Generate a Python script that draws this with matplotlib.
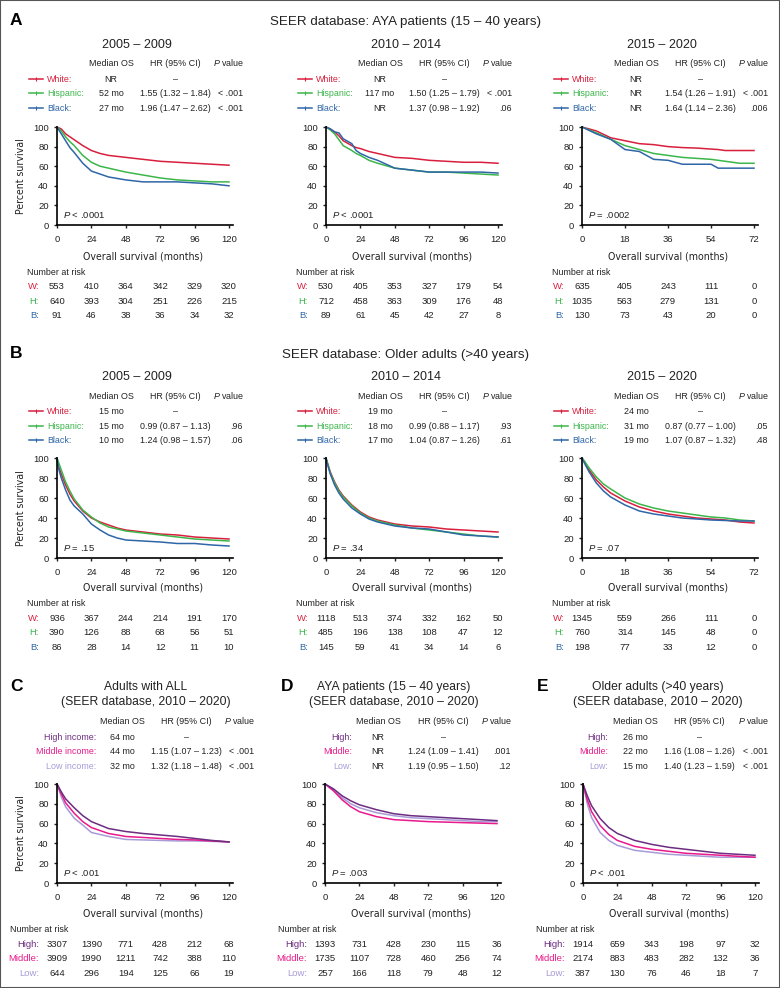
import matplotlib
matplotlib.use("Agg")
import matplotlib.pyplot as plt
from matplotlib.lines import Line2D
from matplotlib.patches import Rectangle
from matplotlib.transforms import blended_transform_factory

plt.rcParams['font.family'] = ['Liberation Sans', 'DejaVu Sans']
plt.rcParams['mathtext.fontset'] = 'custom'
plt.rcParams['mathtext.it'] = 'Liberation Sans:italic'
plt.rcParams['mathtext.rm'] = 'Liberation Sans'
NARROW = dict(family=['DejaVu Sans'], stretch='condensed')

# ---------------- data ----------------
race_names = ["White:", "Hispanic:", "Black:"]
race_short = ["W:", "H:", "B:"]
race_colors = ["#d91f3d", "#3cb64a", "#2f66a8"]
inc_colors = ["#6c2c80", "#e8198b", "#a89bd8"]
inc_short = ["High:", "Middle:", "Low:"]

periods = ["2005 – 2009", "2010 – 2014", "2015 – 2020"]
xticks_10y = [0, 24, 48, 72, 96, 120]
xticks_6y = [0, 18, 36, 54, 72]

# A: AYA patients by race
a_median = [["NR", "52 mo", "27 mo"], ["NR", "117 mo", "NR"], ["NR", "NR", "NR"]]
a_hr = [["–", "1.55 (1.32 – 1.84)", "1.96 (1.47 – 2.62)"],
        ["–", "1.50 (1.25 – 1.79)", "1.37 (0.98 – 1.92)"],
        ["–", "1.54 (1.26 – 1.91)", "1.64 (1.14 – 2.36)"]]
a_pval = [["", "< .001", "< .001"], ["", "< .001", ".06"], ["", "< .001", ".006"]]
a_logrank = ["< .0001", "< .0001", "= .0002"]
a_risk = [[[553, 410, 364, 342, 329, 320], [640, 393, 304, 251, 226, 215], [91, 46, 38, 36, 34, 32]],
          [[530, 405, 353, 327, 179, 54], [712, 458, 363, 309, 176, 48], [89, 61, 45, 42, 27, 8]],
          [[635, 405, 243, 111, 0], [1035, 563, 279, 131, 0], [130, 73, 43, 20, 0]]]

a1_t = [0, 3, 6, 9, 12, 18, 24, 30, 36, 48, 60, 72, 84, 96, 108, 120]
a1_w = [100, 98, 93, 90, 87, 81, 76, 73, 71, 69, 67, 65, 64, 63, 62, 61]
a1_h = [100, 96, 90, 85, 81, 71, 64, 60, 58, 54, 51, 48, 46, 45, 44, 44]
a1_b = [100, 93, 86, 79, 74, 63, 55, 52, 49, 46, 44, 44, 44, 43, 42, 40]

a2_t = [0, 3, 6, 9, 12, 18, 21, 24, 30, 36, 48, 60, 72, 84, 96, 108, 120]
a2_w = [100, 98, 95, 91, 86, 81, 79, 78, 75, 73, 69, 68, 66, 65, 64, 64, 63]
a2_h = [100, 97, 93, 87, 81, 76, 73, 71, 66, 63, 58, 56, 54, 54, 53, 52, 51]
a2_b = [100, 98, 95, 94, 88, 83, 76, 73, 69, 66, 58, 56, 54, 54, 54, 54, 53]

a3_t = [0, 6, 12, 18, 24, 30, 36, 42, 48, 54, 57, 60, 66, 72]
a3_w = [100, 96, 89, 86, 83, 82, 80, 79, 78.5, 77.5, 77, 76, 76, 76]
a3_h = [100, 94, 87.5, 81, 77, 73, 71, 69, 68, 67, 66, 65, 63, 63]
a3_b = [100, 93, 87.5, 77, 75, 67, 66, 62, 62, 62, 58, 58, 58, 58]

# B: older adults by race
b_median = [["15 mo", "15 mo", "10 mo"], ["19 mo", "18 mo", "17 mo"], ["24 mo", "31 mo", "19 mo"]]
b_hr = [["–", "0.99 (0.87 – 1.13)", "1.24 (0.98 – 1.57)"],
        ["–", "0.99 (0.88 – 1.17)", "1.04 (0.87 – 1.26)"],
        ["–", "0.87 (0.77 – 1.00)", "1.07 (0.87 – 1.32)"]]
b_pval = [["", ".96", ".06"], ["", ".93", ".61"], ["", ".05", ".48"]]
b_logrank = ["= .15", "= .34", "= .07"]
b_risk = [[[936, 367, 244, 214, 191, 170], [390, 126, 88, 68, 56, 51], [86, 28, 14, 12, 11, 10]],
          [[1118, 513, 374, 332, 162, 50], [485, 196, 138, 108, 47, 12], [145, 59, 41, 34, 14, 6]],
          [[1345, 559, 266, 111, 0], [760, 314, 145, 48, 0], [198, 77, 33, 12, 0]]]

b1_t = [0, 1, 3, 6, 9, 12, 18, 24, 30, 36, 42, 48, 60, 72, 84, 96, 108, 120]
b1_w = [100, 92, 84, 73, 64, 57, 47, 40, 36, 33, 30, 28, 26, 24, 23, 21, 20, 19]
b1_h = [100, 96, 88, 76, 67, 59, 48, 41, 35, 31, 29, 27, 25, 23, 21, 19, 18, 17]
b1_b = [100, 90, 80, 68, 58, 52, 44, 34, 28, 23, 20, 18, 17, 16, 14.5, 14.5, 13, 12]

b2_t = [0, 1, 3, 6, 9, 12, 18, 24, 30, 36, 48, 60, 72, 84, 96, 108, 120]
b2_w = [100, 95, 86, 76, 68, 62, 53, 46, 41, 38, 34, 32, 31, 29, 28, 27, 26]
b2_h = [100, 95, 85, 75, 67, 61, 52, 45, 40, 37, 33, 30, 28, 26, 24, 22, 21]
b2_b = [100, 94, 84, 73, 65, 59, 50, 44, 39, 36, 32, 30, 29, 26, 23, 22, 21]

b3_t = [0, 1, 3, 6, 9, 12, 18, 24, 30, 36, 42, 48, 54, 60, 66, 72]
b3_w = [100, 96, 88, 78, 71, 65, 57, 51, 47, 44, 42, 40, 39, 38, 36, 35]
b3_h = [100, 97, 90, 81, 74, 69, 60, 54, 50, 47, 45, 43, 41, 40, 38, 37]
b3_b = [100, 95, 86, 75, 67, 61, 53, 47, 44, 42, 40, 39, 38, 37.5, 37, 37]

# C/D/E: by income, 2010 - 2020
cde_title1 = ["Adults with ALL", "AYA patients (15 – 40 years)", "Older adults (>40 years)"]
cde_title2 = "(SEER database, 2010 – 2020)"
c_names = ["High income:", "Middle income:", "Low income:"]
cde_median = [["64 mo", "44 mo", "32 mo"], ["NR", "NR", "NR"], ["26 mo", "22 mo", "15 mo"]]
cde_hr = [["–", "1.15 (1.07 – 1.23)", "1.32 (1.18 – 1.48)"],
          ["–", "1.24 (1.09 – 1.41)", "1.19 (0.95 – 1.50)"],
          ["–", "1.16 (1.08 – 1.26)", "1.40 (1.23 – 1.59)"]]
cde_pval = [["", "< .001", "< .001"], ["", ".001", ".12"], ["", "< .001", "< .001"]]
cde_logrank = ["< .001", "= .003", "< .001"]
cde_risk = [[[3307, 1390, 771, 428, 212, 68], [3909, 1990, 1211, 742, 388, 110], [644, 296, 194, 125, 66, 19]],
            [[1393, 731, 428, 230, 115, 36], [1735, 1107, 728, 460, 256, 74], [257, 166, 118, 79, 48, 12]],
            [[1914, 659, 343, 198, 97, 32], [2174, 883, 483, 282, 132, 36], [387, 130, 76, 46, 18, 7]]]

c_t = [0, 3, 6, 12, 18, 24, 36, 48, 60, 72, 84, 96, 108, 120]
c_high = [100, 92, 85, 76, 68, 62, 55, 52, 50, 48.5, 47, 45, 43, 41.5]
c_mid = [100, 90, 81, 70.5, 62, 56, 50, 47, 46, 45, 44, 43.5, 42.5, 41.5]
c_low = [100, 87, 77, 65.5, 58.5, 51, 47, 44, 43.5, 43, 42.5, 42.5, 42, 41.5]

d_t = [0, 6, 12, 18, 24, 36, 48, 60, 72, 84, 96, 108, 120]
d_high = [100, 95, 88, 83, 79, 74, 70, 68, 67, 66, 65, 64, 63]
d_mid = [100, 93, 84, 77, 72, 67, 64, 63, 62, 61.5, 61, 60.5, 60]
d_low = [100, 94, 86, 80, 76, 71, 68, 66, 65, 64, 63, 62, 62]

e_t = [0, 3, 6, 12, 18, 24, 36, 48, 60, 72, 84, 96, 108, 120]
e_high = [100, 88, 78, 65, 56, 50, 43, 39, 36, 34, 32, 30, 29, 28]
e_mid = [100, 84, 72, 58, 49, 43, 37, 34, 32, 30, 29, 28, 27, 26]
e_low = [100, 80, 66, 51, 43, 38, 33, 31, 29, 28, 27, 26, 26, 26]

# ---------------- layout helpers (pixel coords) ----------------
W, H = 780, 988
fig = plt.figure(figsize=(W / 100, H / 100), dpi=100)
fig.patches.append(Rectangle((0, 0), 1, 1, transform=fig.transFigure,
                             fill=False, ec="#555555", lw=1.5))

def fx(p):
    return p / W

def fy(p):
    return 1 - p / H

def ftext(x, y, s, fontsize=6.4, **kw):
    # y is the visual centre of the digits/capitals -> put on baseline
    kw.setdefault("color", "#222222")
    yb = y + 0.36 * fontsize * 100 / 72
    fig.text(fx(x), fy(yb), s, fontsize=fontsize, va="baseline", **kw)

AXW = 172  # pixels from 0 to xmax

def km_axes(x0, y100, y0, xmax, xticks, t, curves, colors, ptext):
    ax = fig.add_axes([fx(x0), fy(y0), AXW * 1.025 / W, (y0 - y100) / H])
    for s, c in zip(curves, colors):
        ax.plot(t, s, color=c, lw=1.1, clip_on=False)
    ax.set_xlim(0, xmax * 1.025)
    ax.set_ylim(0, 100)
    ax.set_xticks(xticks)
    ax.set_yticks([0, 20, 40, 60, 80, 100])
    ax.spines[["top", "right"]].set_visible(False)
    ax.spines[["left", "bottom"]].set_linewidth(1.2)
    ax.tick_params(length=2.5, width=1, labelsize=6.8, colors="#222222")
    ax.tick_params(axis="x", pad=4.5)
    ax.tick_params(axis="y", pad=3.5)
    ftext(x0 + 6, y0 - 10, "$P$ " + ptext, fontsize=6.8)
    ax.patch.set_alpha(0)
    return ax

def risk_table(ax, x0, ynar, rows_y, labels, colors, risk, xticks, hdr_dx):
    ftext(x0 - hdr_dx, ynar, "Number at risk")
    tr = blended_transform_factory(ax.transData, fig.transFigure)
    for lab, c, vals, yy in zip(labels, colors, risk, rows_y):
        ftext(x0 - 18, yy, lab, color=c, ha="right", fontsize=6.8)
        yb = yy + 0.36 * 6.8 * 100 / 72
        for xv, v in zip(xticks, vals):
            ax.text(xv, fy(yb), str(v), transform=tr, ha="center", va="baseline",
                    fontsize=6.8, color="#222222", clip_on=False)

def axis_labels(x0, y100, y0, yxl, first):
    ftext(x0 + AXW / 2, yxl, "Overall survival (months)", ha="center",
          fontsize=7.6, **NARROW)
    if first:
        fig.text(fx(21), fy((y100 + y0) / 2), "Percent survival", ha="center",
                 va="center", rotation=90, fontsize=7.6, color="#222222", **NARROW)

def stats_table(x0, yh, rows_y, names, colors, med, hr, pv, d, legend_lines):
    dn, dm, dh, dp = d
    ftext(x0 + dm, yh, "Median OS", ha="center")
    ftext(x0 + dh, yh, "HR (95% CI)", ha="center")
    ftext(x0 + dp, yh, "$P$ value", ha="right")
    for i, yy in enumerate(rows_y):
        if legend_lines:
            fig.add_artist(Line2D([fx(x0 - 28), fx(x0 - 14)], [fy(yy), fy(yy)],
                                  color=colors[i], lw=1.1))
            fig.add_artist(Line2D([fx(x0 - 21)], [fy(yy)], color=colors[i],
                                  marker="|", ms=3, mew=0.8))
            ftext(x0 + dn, yy, names[i], color=colors[i], ha="left")
        else:
            ftext(x0 + dn, yy, names[i], color=colors[i], ha="right")
        ftext(x0 + dm, yy, med[i], ha="center")
        ftext(x0 + dh, yy, hr[i], ha="center")
        ftext(x0 + dp - 1, yy, pv[i], ha="right")

# ---------------- rows A and B ----------------
x0s = [57, 326, 582]
race_rows = [
    dict(letter="A", ly=19, title="SEER database: AYA patients (15 – 40 years)", ty=20,
         sub_y=43, yh=63, rows=[79, 93, 108], y100=127, y0=225, yxl=256, ynar=272,
         nar=[286, 301, 315], med=a_median, hr=a_hr, pv=a_pval, lr=a_logrank, risk=a_risk,
         curves=[(a1_t, [a1_w, a1_h, a1_b]), (a2_t, [a2_w, a2_h, a2_b]), (a3_t, [a3_w, a3_h, a3_b])]),
    dict(letter="B", ly=352, title="SEER database: Older adults (>40 years)", ty=353,
         sub_y=375, yh=396, rows=[411, 426, 440], y100=458, y0=558, yxl=587, ynar=603,
         nar=[618, 632, 647], med=b_median, hr=b_hr, pv=b_pval, lr=b_logrank, risk=b_risk,
         curves=[(b1_t, [b1_w, b1_h, b1_b]), (b2_t, [b2_w, b2_h, b2_b]), (b3_t, [b3_w, b3_h, b3_b])]),
]

for r in race_rows:
    ftext(10, r["ly"], r["letter"], fontsize=12.5, weight="bold", color="black", ha="left")
    ftext(406, r["ty"], r["title"], fontsize=9.6, ha="center")
    for k, x0 in enumerate(x0s):
        xmax = 72 if k == 2 else 120
        xt = xticks_6y if k == 2 else xticks_10y
        t, cs = r["curves"][k]
        ftext(x0 + 80, r["sub_y"], periods[k], fontsize=9, ha="center")
        stats_table(x0, r["yh"], r["rows"], race_names, race_colors,
                    r["med"][k], r["hr"][k], r["pv"][k], (-10, 54, 118, 187), True)
        ax = km_axes(x0, r["y100"], r["y0"], xmax, xt, t, cs, race_colors, r["lr"][k])
        axis_labels(x0, r["y100"], r["y0"], r["yxl"], k == 0)
        risk_table(ax, x0, r["ynar"], r["nar"], race_short, race_colors,
                   r["risk"][k], xt, 30)

# ---------------- row C/D/E ----------------
cde_x0 = [57, 325, 583]
cde_letters = ["C", "D", "E"]
cde_letter_x = [10, 281, 537]
cde_title_x = [146, 394, 658]
cde_names = [c_names, inc_short, inc_short]
cde_d = [(39, 65, 129, 198), (27, 53, 118, 187), (25, 52, 116, 186)]
cde_curves = [(c_t, [c_low, c_mid, c_high]), (d_t, [d_low, d_mid, d_high]), (e_t, [e_low, e_mid, e_high])]
cde_order_colors = [inc_colors[2], inc_colors[1], inc_colors[0]]

for k, x0 in enumerate(cde_x0):
    ftext(cde_letter_x[k], 685, cde_letters[k], fontsize=12.5, weight="bold",
          color="black", ha="left")
    ftext(cde_title_x[k], 686, cde_title1[k], fontsize=8.7, ha="center")
    ftext(cde_title_x[k], 701, cde_title2, fontsize=8.7, ha="center")
    stats_table(x0, 721, [737, 751, 766], cde_names[k], inc_colors,
                cde_median[k], cde_hr[k], cde_pval[k], cde_d[k], False)
    t, cs = cde_curves[k]
    ax = km_axes(x0, 784, 883, 120, xticks_10y, t, cs, cde_order_colors, cde_logrank[k])
    axis_labels(x0, 784, 883, 913, k == 0)
    risk_table(ax, x0, 929, [944, 958, 973], inc_short, inc_colors,
               cde_risk[k], xticks_10y, 47)

fig.savefig("out.png", dpi=100)
